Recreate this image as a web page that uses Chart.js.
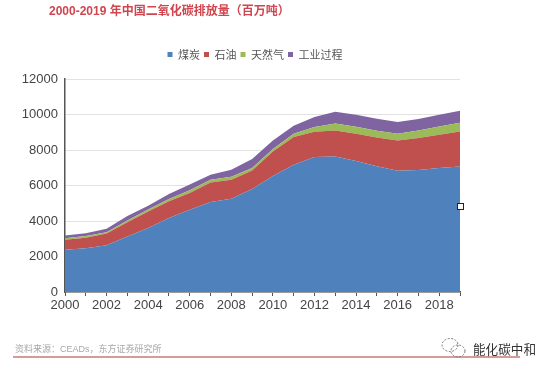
<!DOCTYPE html>
<html>
<head>
<meta charset="utf-8">
<script src="https://cdn.jsdelivr.net/npm/chart.js@4"></script>
<style>
  html, body { margin: 0; padding: 0; background: #fff; overflow: hidden; }
  #page { position: relative; width: 554px; height: 373px; filter: blur(0.45px); font-family: "Liberation Sans", "Noto Sans CJK SC", sans-serif; }
  #wrap { position: absolute; left: 0; top: 0; width: 510px; height: 320px; }
  #title { position: absolute; left: 49px; top: 1px; font-size: 12px; font-weight: bold; color: #d1454f; white-space: pre; }
  #source { position: absolute; left: 15px; top: 342px; font-size: 9px; color: #a8a8a8; white-space: pre; }
  #rule { position: absolute; left: 13px; top: 356px; width: 507px; height: 2px; background: #d79a9a; }
  #mark { position: absolute; left: 473px; top: 339px; font-size: 12.6px; color: #333; white-space: pre; }
  #handle { position: absolute; left: 457px; top: 203px; width: 5px; height: 5px; border: 1px solid #222; background: #fff; }
  #icon { position: absolute; left: 441px; top: 337px; }
</style>
</head>
<body>
<div id="page">
  <div id="title">2000-2019 年中国二氧化碳排放量（百万吨）</div>
  <div id="wrap"><canvas id="myChart" width="510" height="320"></canvas></div>
  <div id="handle"></div>
  <div id="source">资料来源：CEADs，东方证券研究所</div>
  <div id="rule"></div>
  <svg id="icon" width="26" height="22" fill="none" stroke="#777" stroke-width="1" stroke-dasharray="2 1.5">
    <ellipse cx="9" cy="8" rx="8" ry="6.5"/>
    <ellipse cx="17" cy="14" rx="7" ry="6"/>
  </svg>
  <div id="mark">能化碳中和</div>
</div>
<script>
const years = ['2000','2001','2002','2003','2004','2005','2006','2007','2008','2009','2010','2011','2012','2013','2014','2015','2016','2017','2018','2019'];
const coal = [2380,2470,2630,3130,3610,4170,4640,5070,5260,5800,6530,7170,7600,7640,7380,7090,6830,6880,6980,7070];
const oil = [565,590,660,800,930,940,940,1100,1070,1040,1390,1560,1430,1460,1530,1620,1710,1800,1880,1975];
const gas = [90,90,80,100,110,130,150,150,170,150,130,190,265,390,400,380,375,420,470,490];
const industry = [150,160,190,250,210,280,320,280,390,505,490,450,565,670,680,670,660,640,650,680];

const seriesNames = ['煤炭','石油','天然气','工业过程'];
const seriesColors = ['#4f81bd','#c0504d','#9bbb59','#8064a2'];
const seriesValues = [coal, oil, gas, industry];

// legend sits higher than the default and is centred on the whole canvas
const legendGap = {
  id: 'legendGap',
  beforeInit(chart) {
    const fit = chart.legend.fit;
    chart.legend.fit = function() {
      fit.bind(chart.legend)();
      this.height += 9;
    };
  },
  beforeDraw(chart) {
    chart.legend.right = chart.width;
  }
};

let ctx = document.getElementById('myChart').getContext('2d');

new Chart(ctx, {
  type: 'line',
  data: {
    labels: years,
    datasets: seriesNames.map((name, i) => ({
      label: name,
      data: seriesValues[i],
      backgroundColor: seriesColors[i],
      borderColor: seriesColors[i],
      borderWidth: 0,
      pointRadius: 0,
      tension: 0,
      fill: i === 0 ? 'origin' : '-1'
    }))
  },
  plugins: [legendGap],
  options: {
    responsive: false,
    animation: false,
    layout: { padding: { top: 45, right: 50, left: 0, bottom: 0 } },
    plugins: {
      tooltip: { enabled: false },
      legend: {
        position: 'top',
        labels: {
          boxWidth: 5,
          boxHeight: 5,
          padding: 4,
          color: '#555',
          font: { size: 11, family: '"Noto Sans CJK SC", sans-serif' }
        }
      }
    },
    scales: {
      x: {
        stacked: true,
        afterFit: (scale) => { scale.height = 28; },
        grid: { drawOnChartArea: false, color: '#555', tickLength: 4 },
        border: { color: '#555', width: 1.5 },
        ticks: {
          autoSkip: false,
          maxRotation: 0,
          color: '#444',
          padding: 2,
          font: { size: 13, family: '"Liberation Sans", sans-serif' },
          callback: function(value, index) {
            return index % 2 === 0 ? years[index] : '';
          }
        }
      },
      y: {
        stacked: true,
        min: 0,
        max: 12000,
        afterFit: (scale) => { scale.width = 65; },
        grid: { color: '#e2e2e2', tickLength: 0 },
        border: { color: '#555', width: 1.5 },
        ticks: {
          stepSize: 2000,
          color: '#444',
          padding: 7,
          font: { size: 13, family: '"Liberation Sans", sans-serif' },
          callback: (value) => String(value)
        }
      }
    }
  }
});
</script>
</body>
</html>
